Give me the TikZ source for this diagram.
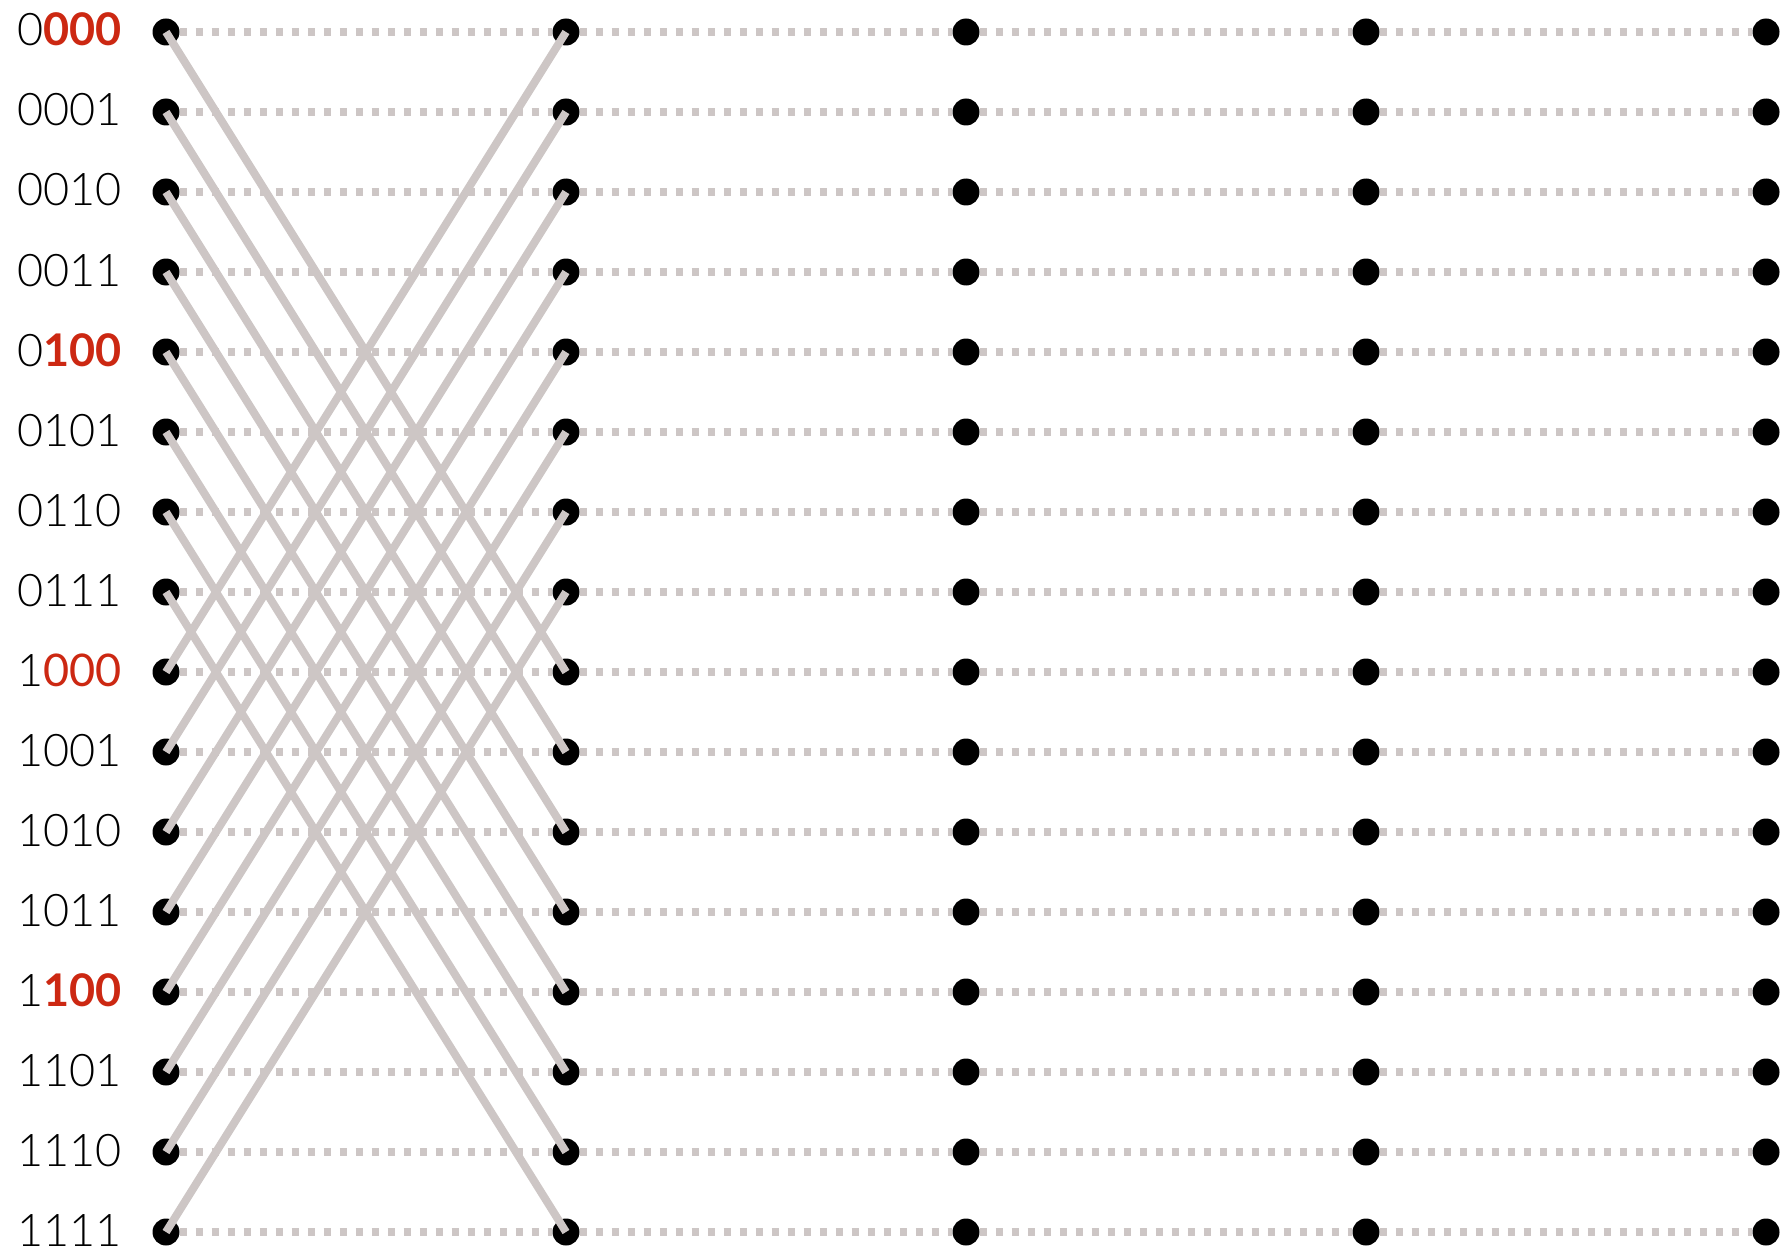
\documentclass[tikz,border=0pt]{standalone}
\usepackage{fontspec}
\setmainfont{Lato}[UprightFont={* Light},BoldFont={* Bold}]
\newfontfamily\medfont{Lato}
\definecolor{gridgray}{RGB}{205,198,197}
\definecolor{bitred}{RGB}{204,40,18}
\begin{document}
\begin{tikzpicture}[x=1pt,y=-1pt,
  dot/.style={circle,fill=black,inner sep=0pt,minimum size=27pt},
  rail/.style={gridgray,line width=8pt,dash pattern=on 7pt off 9pt},
  wire/.style={gridgray,line width=8pt},
  lbl/.style={anchor=base west,inner sep=0pt,font=\fontsize{45}{45}\selectfont}]
\useasboundingbox (0,0) rectangle (1782,1252);
% dots
\foreach \r in {0,...,15}{
  \foreach \c in {0,...,4}{
    \node[dot] (d-\c-\r) at ({166+400*\c},{32+80*\r}) {};
  }
}
% dotted rails between neighbouring columns
\foreach \r in {0,...,15}{
  \foreach \c [evaluate=\c as \n using int(\c+1)] in {0,...,3}{
    \draw[rail] (d-\c-\r) -- (d-\n-\r);
  }
}
% butterfly wires
\foreach \r [evaluate=\r as \s using {int(mod(\r+8,16))}] in {0,...,15}{
  \draw[wire] (d-0-\r.center) -- (d-1-\s.center);
}
% labels
\foreach \r/\t in {
  0/{0\textcolor{bitred}{\bfseries 000}},
  1/{0001}, 2/{0010}, 3/{0011},
  4/{0\textcolor{bitred}{\bfseries 100}},
  5/{0101}, 6/{0110}, 7/{0111},
  8/{1\textcolor{bitred}{\medfont 000}},
  9/{1001}, 10/{1010}, 11/{1011},
  12/{1\textcolor{bitred}{\bfseries 100}},
  13/{1101}, 14/{1110}, 15/{1111}}{
  \node[lbl] (l-\r) at (17,{46+80*\r}) {\t};
}
\end{tikzpicture}
\end{document}
